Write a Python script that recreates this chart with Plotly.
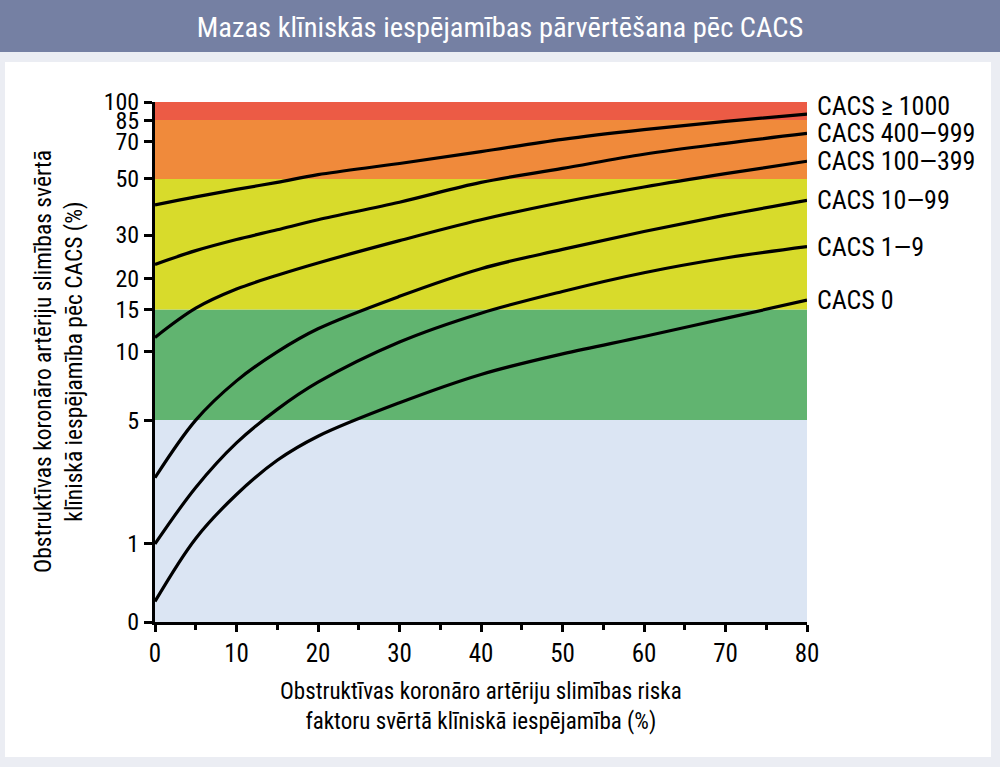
import numpy as np
import plotly.graph_objects as go

# ---------------- data ----------------
x_vals = [0, 5, 10, 15, 20, 30, 40, 50, 60, 70, 80]

series_names = ["CACS ≥ 1000", "CACS 400—999", "CACS 100—399", "CACS 10—99", "CACS 1—9", "CACS 0"]
cacs_1000 = [39.5, 42.5, 45.5, 48.5, 52.0, 57.5, 64.0, 71.5, 78.0, 84.0, 89.7]
cacs_400 = [22.9, 26.0, 28.8, 31.5, 34.5, 40.5, 48.5, 55.0, 62.5, 69.0, 75.4]
cacs_100 = [11.5, 15.2, 18.2, 20.7, 23.2, 28.5, 34.5, 40.5, 46.5, 52.5, 58.7]
cacs_10 = [2.6, 5.0, 7.5, 10.0, 12.5, 17.0, 22.0, 26.3, 31.0, 36.0, 41.2]
cacs_1 = [1.0, 2.3, 3.9, 5.6, 7.4, 11.0, 14.5, 17.8, 21.2, 24.3, 27.0]
cacs_0 = [0.2, 1.1, 2.1, 3.2, 4.2, 6.0, 8.0, 9.8, 11.6, 13.8, 16.4]
series_values = [cacs_1000, cacs_400, cacs_100, cacs_10, cacs_1, cacs_0]

band_edges = [0, 5, 15, 50, 85, 100]
band_colors = ["#dbe5f3", "#61b470", "#d8db2b", "#f08a3b", "#ec5b45"]

y_tick_labels = [0, 1, 5, 10, 15, 20, 30, 50, 70, 85, 100]
x_tick_labels = [0, 10, 20, 30, 40, 50, 60, 70, 80]

title_text = "Mazas klīniskās iespējamības pārvērtēšana pēc CACS"
x_title = "Obstruktīvas koronāro artēriju slimības riska<br>faktoru svērtā klīniskā iespējamība (%)"
y_title = "Obstruktīvas koronāro artēriju slimības svērtā<br>klīniskā iespējamība pēc CACS (%)"

# y scale: log10(value + 1)
OFFSET = 1.0

FONT = "Roboto Condensed, Liberation Sans Narrow, Arial Narrow, sans-serif"

fig = go.Figure()

shapes = []
L, R, T, B = 155, 193, 102, 145
W, H = 1000, 767
pw, ph = W - L - R, H - T - B


def px2paper(px, py):
    return (px - L) / pw, (H - B - py) / ph


# white panel and title bar (paper coordinates)
x0p, y1p = px2paper(5, 62)
x1p, y0p = px2paper(991, 757)
shapes.append(dict(type="rect", xref="paper", yref="paper", x0=x0p, x1=x1p, y0=y0p, y1=y1p,
                   fillcolor="white", line=dict(width=0), layer="below"))
tx0, ty1 = px2paper(0, 0)
tx1, ty0 = px2paper(1000, 52)
shapes.append(dict(type="rect", xref="paper", yref="paper", x0=tx0, x1=tx1, y0=ty0, y1=ty1,
                   fillcolor="#7580a3", line=dict(width=0), layer="below"))

# background probability bands
for lo, hi, col in zip(band_edges[:-1], band_edges[1:], band_colors):
    shapes.append(dict(type="rect", xref="x", yref="y", x0=x_vals[0], x1=x_vals[-1],
                       y0=lo + OFFSET, y1=hi + OFFSET, fillcolor=col, line=dict(width=0), layer="below"))

for name, vals in zip(series_names, series_values):
    fig.add_trace(go.Scatter(x=x_vals, y=[v + OFFSET for v in vals], mode="lines", name=name,
                             line=dict(color="black", width=3.2, shape="spline", smoothing=1.0),
                             showlegend=False, hoverinfo="skip"))

annotations = []
label_shift = {"CACS ≥ 1000": 8}
for name, vals in zip(series_names, series_values):
    annotations.append(dict(x=x_vals[-1], y=np.log10(vals[-1] + OFFSET), xref="x", yref="y",
                            text=name, showarrow=False, xanchor="left", yanchor="middle",
                            xshift=8, yshift=label_shift.get(name, 0),
                            font=dict(family=FONT, size=26, color="black")))

annotations.append(dict(x=0.5, y=-(676 - 622) / ph, xref="paper", yref="paper", text=x_title, showarrow=False,
                        xanchor="center", yanchor="top", align="center",
                        font=dict(family=FONT, size=23, color="black")))
annotations.append(dict(x=(58 - L) / pw, y=0.5, xref="paper", yref="paper", text=y_title, showarrow=False,
                        textangle=-90, xanchor="center", yanchor="middle", align="center",
                        font=dict(family=FONT, size=23.5, color="black")))

fig.update_layout(
    width=W, height=H,
    margin=dict(l=L, r=R, t=T, b=B),
    paper_bgcolor="#ebedf3",
    plot_bgcolor="white",
    shapes=shapes,
    annotations=annotations,
    title=dict(text=title_text, x=0.5, xref="container", xanchor="center",
               y=1 - 27 / H, yref="container", yanchor="middle",
               font=dict(family=FONT, size=28.5, color="white")),
)

fig.update_xaxes(range=[x_vals[0], x_vals[-1]], tickvals=x_tick_labels,
                 ticktext=[str(v) for v in x_tick_labels],
                 showgrid=False, zeroline=False, showline=True, linecolor="black", linewidth=3,
                 ticks="outside", ticklen=7, tickwidth=2.5, tickcolor="black",
                 minor=dict(ticks="outside", dtick=5, tick0=0, ticklen=5, tickwidth=2.5, tickcolor="black"),
                 tickfont=dict(family=FONT, size=25, color="black"))

fig.update_yaxes(type="log", range=[np.log10(band_edges[0] + OFFSET), np.log10(band_edges[-1] + OFFSET)],
                 tickvals=[v + OFFSET for v in y_tick_labels], ticktext=[str(v) for v in y_tick_labels],
                 showgrid=False, zeroline=False, showline=True, linecolor="black", linewidth=3,
                 ticks="outside", ticklen=8, tickwidth=2.5, tickcolor="black",
                 tickfont=dict(family=FONT, size=24, color="black"))

fig.write_html("out.html")
